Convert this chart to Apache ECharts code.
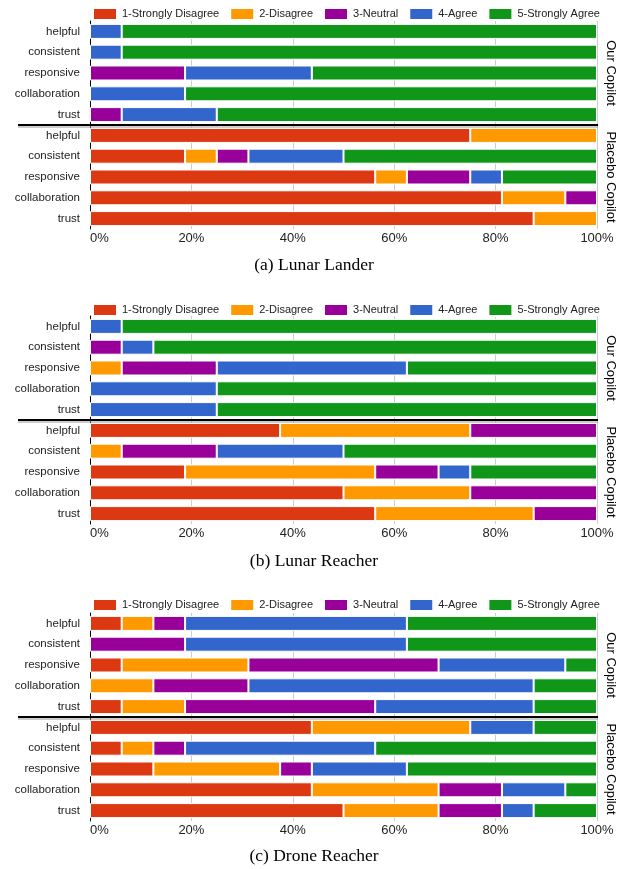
<!DOCTYPE html>
<html>
<head>
<meta charset="utf-8">
<script src="https://cdn.jsdelivr.net/npm/echarts@6/dist/echarts.min.js"></script>
<style>
html,body{margin:0;padding:0;background:#fff}
#main{width:628px;height:869px}
</style>
</head>
<body>
<div id="main"></div>
<script>
// 数据（百分比），每行依次为 1..5 级
var levels = ['1-Strongly Disagree','2-Disagree','3-Neutral','4-Agree','5-Strongly Agree'];
var colors = ['#dc3912','#ff9900','#990099','#3366cc','#109618'];
var questions = ['helpful','consistent','responsive','collaboration','trust'];
var groups = ['Our Copilot','Placebo Copilot'];
var captions = ['(a) Lunar Lander','(b) Lunar Reacher','(c) Drone Reacher'];

// 前5行 Our Copilot，后5行 Placebo Copilot
var lunarLander = [
	[0,0,0,6.25,93.75],
	[0,0,0,6.25,93.75],
	[0,0,18.75,25,56.25],
	[0,0,0,18.75,81.25],
	[0,0,6.25,18.75,75],
	[75,25,0,0,0],
	[18.75,6.25,6.25,18.75,50],
	[56.25,6.25,12.5,6.25,18.75],
	[81.25,12.5,6.25,0,0],
	[87.5,12.5,0,0,0]
];
var lunarReacher = [
	[0,0,0,6.25,93.75],
	[0,0,6.25,6.25,87.5],
	[0,6.25,18.75,37.5,37.5],
	[0,0,0,25,75],
	[0,0,0,25,75],
	[37.5,37.5,25,0,0],
	[0,6.25,18.75,25,50],
	[18.75,37.5,12.5,6.25,25],
	[50,25,25,0,0],
	[56.25,31.25,12.5,0,0]
];
var droneReacher = [
	[6.25,6.25,6.25,43.75,37.5],
	[0,0,18.75,43.75,37.5],
	[6.25,25,37.5,25,6.25],
	[0,12.5,18.75,56.25,12.5],
	[6.25,12.5,37.5,31.25,12.5],
	[43.75,31.25,0,12.5,12.5],
	[6.25,6.25,6.25,37.5,43.75],
	[12.5,25,6.25,18.75,37.5],
	[43.75,25,12.5,12.5,6.25],
	[50,18.75,12.5,6.25,12.5]
];
var panels = [lunarLander, lunarReacher, droneReacher];

// 布局
var gridTops = [21, 316, 613];
var gridH = 208;
var plotL = 90, plotW = 507;
var legendTops = [7, 303, 598];
var captionY = [265, 561, 856];

var cats = [];
groups.forEach(function(g){
	questions.forEach(function(q){ cats.push(g + '|' + q); });
});

var grid = [], xAxis = [], yAxis = [], series = [], legend = [], graphic = [];

panels.forEach(function(rows, p){
	grid.push({left: plotL, top: gridTops[p], width: plotW, height: gridH});
	xAxis.push({
		type: 'value', gridIndex: p, min: 0, max: 100, interval: 20,
		axisLine: {show: false}, axisTick: {show: false},
		splitLine: {lineStyle: {color: '#cccccc', width: 1}},
		axisLabel: {formatter: '{value}%', fontSize: 13, color: '#222', margin: 3, fontFamily: 'Liberation Sans', alignMinLabel: 'left'}
	});
	yAxis.push({
		type: 'category', gridIndex: p, data: cats, inverse: true,
		axisLine: {lineStyle: {color: '#000', width: 1}}, axisTick: {show: false},
		axisLabel: {
			fontSize: 11.5, color: '#222', margin: 10, fontFamily: 'Liberation Sans',
			formatter: function(v){ return v.split('|')[1]; }
		}
	});
	levels.forEach(function(name, k){
		series.push({
			name: name, type: 'bar', stack: 'p' + p,
			xAxisIndex: p, yAxisIndex: p, barWidth: 15,
			itemStyle: {color: colors[k], borderColor: '#fff', borderWidth: 1},
			data: rows.map(function(r){ return r[k] ? r[k] : '-'; })
		});
	});
	legend.push({
		data: levels, top: legendTops[p], left: 92, padding: 0,
		icon: 'rect', itemWidth: 24, itemHeight: 12, itemGap: 10,
		textStyle: {fontSize: 11, color: '#222', fontFamily: 'Liberation Sans'}
	});

	var band = gridH / 10;
	var sepY = gridTops[p] + band * 5;
	graphic.push({type: 'line', shape: {x1: 18, y1: sepY, x2: 598, y2: sepY}, style: {stroke: '#000', lineWidth: 2}, z: 10});
	graphic.push({type: 'line', shape: {x1: 18, y1: sepY + 2, x2: 598, y2: sepY + 2}, style: {stroke: '#999', lineWidth: 1}, z: 10});
	groups.forEach(function(g, i){
		graphic.push({
			type: 'text', x: 611, y: gridTops[p] + band * (2.5 + 5 * i), rotation: -Math.PI / 2,
			style: {text: g, fontSize: 13, fill: '#000', fontFamily: 'Liberation Sans', align: 'center', verticalAlign: 'middle'}
		});
	});
	graphic.push({
		type: 'text', x: 314, y: captionY[p],
		style: {text: captions[p], fontSize: 17.5, fill: '#000', fontFamily: 'Liberation Serif', align: 'center', verticalAlign: 'middle'}
	});
});

var myChart = echarts.init(document.getElementById('main'));
myChart.setOption({
	animation: false,
	color: colors,
	grid: grid,
	xAxis: xAxis,
	yAxis: yAxis,
	legend: legend,
	series: series,
	graphic: graphic
});
</script>
</body>
</html>
